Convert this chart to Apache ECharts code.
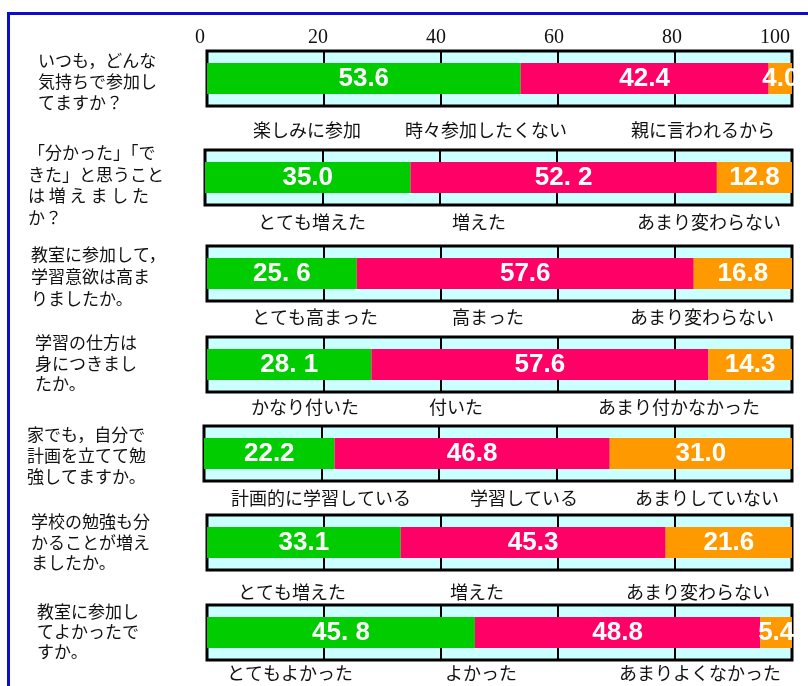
<!DOCTYPE html>
<html>
<head>
<meta charset="utf-8">
<script src="https://cdn.jsdelivr.net/npm/echarts@6/dist/echarts.min.js"></script>
<style>
  html, body { margin: 0; padding: 0; background: #fff; }
  #chart { width: 808px; height: 686px; }
</style>
</head>
<body>
<div id="chart"></div>
<script>
// questions (left column)
var questions = [
  'いつも，どんな\n気持ちで参加し\nてますか？',
  '「分かった」「で\nきた」と思うこと\nは 増 え ま し た\nか？',
  '教室に参加して，\n学習意欲は高ま\nりましたか。',
  '学習の仕方は\n身につきまし\nたか。',
  '家でも，自分で\n計画を立てて勉\n強してますか。',
  '学校の勉強も分\nかることが増え\nましたか。',
  '教室に参加し\nてよかったで\nすか。'
];

// answer names under each bar
var answers = [
  ['楽しみに参加', '時々参加したくない', '親に言われるから'],
  ['とても増えた', '増えた', 'あまり変わらない'],
  ['とても高まった', '高まった', 'あまり変わらない'],
  ['かなり付いた', '付いた', 'あまり付かなかった'],
  ['計画的に学習している', '学習している', 'あまりしていない'],
  ['とても増えた', '増えた', 'あまり変わらない'],
  ['とてもよかった', 'よかった', 'あまりよくなかった']
];

// percentages
var greenValues  = [53.6, 35.0, 25.6, 28.1, 22.2, 33.1, 45.8];
var pinkValues   = [42.4, 52.2, 57.6, 57.6, 46.8, 45.3, 48.8];
var orangeValues = [4.0, 12.8, 16.8, 14.3, 31.0, 21.6, 5.4];

// labels as printed on the bars
var greenText  = ['53.6', '35.0', '25. 6', '28. 1', '22.2', '33.1', '45. 8'];
var pinkText   = ['42.4', '52. 2', '57.6', '57.6', '46.8', '45.3', '48.8'];
var orangeText = ['4.0', '12.8', '16.8', '14.3', '31.0', '21.6', '5.4'];

var tickLabels = ['0', '20', '40', '60', '80', '100'];

// layout
var boxTop    = [51, 150, 246, 337, 426, 515, 605];
var boxLeft   = [207, 205, 207, 207, 204, 207, 207];
var boxHeight = 55;
var qPos   = [[38, 61, 21], [28, 153, 21.5], [31, 255, 22], [35, 343, 20.5], [27, 435, 21], [31, 522, 20.5], [37, 612, 20]];
var ansY   = [130, 222, 317, 407, 498, 592, 673];
var ansX   = [[307, 486, 703], [312, 479, 709], [315, 488, 702], [305, 456, 679], [321, 524, 707], [292, 477, 698], [290, 481, 700]];

var colors = ['#00cc00', '#ff0066', '#ff9900'];
var jpFont = "'Noto Sans CJK JP', sans-serif";
var numFont = "'Liberation Sans', Arial, sans-serif";

var myChart = echarts.init(document.getElementById('chart'));

var grids = [], xAxes = [], yAxes = [], series = [], graphics = [];

// row index is stored in the series name
var currentRow = function (p) { return +p.seriesName.split('-')[1]; };
var barLabel = function (texts) {
  return {
    show: true,
    position: 'inside',
    color: '#fff',
    fontFamily: numFont,
    fontWeight: 'bold',
    fontSize: 26,
    formatter: function (p) { return texts[currentRow(p)]; }
  };
};

for (var i = 0; i < greenValues.length; i++) {
  grids.push({
    left: boxLeft[i], right: 16, top: boxTop[i], height: boxHeight,
    show: true, backgroundColor: '#ccffff', borderColor: '#000', borderWidth: 3
  });
  xAxes.push({
    gridIndex: i, type: 'value', min: 0, max: 100, interval: 20,
    axisLine: { show: false }, axisTick: { show: false }, axisLabel: { show: false },
    splitLine: { show: true, lineStyle: { color: '#000', width: 2 } }
  });
  yAxes.push({
    gridIndex: i, type: 'category', data: ['q' + i], show: false
  });
  var vals = [greenValues[i], pinkValues[i], orangeValues[i]];
  var texts = [greenText, pinkText, orangeText];
  for (var k = 0; k < 3; k++) {
    series.push({
      name: 's' + k + '-' + i,
      type: 'bar', stack: 'row' + i,
      xAxisIndex: i, yAxisIndex: i,
      barWidth: 31,
      data: [vals[k]],
      itemStyle: { color: colors[k] },
      label: barLabel(texts[k]),
      z: 3
    });
  }
  graphics.push({
    type: 'text', left: qPos[i][0], top: qPos[i][1] - qPos[i][2] / 2,
    style: { text: questions[i], font: '17px ' + jpFont, fill: '#111', lineHeight: qPos[i][2] }
  });
  for (var a = 0; a < 3; a++) {
    graphics.push({
      type: 'text', x: ansX[i][a], y: ansY[i],
      style: { text: answers[i][a], font: '18px ' + jpFont, fill: '#111', textAlign: 'center', textVerticalAlign: 'middle' }
    });
  }
}

// separate axis carrying only the printed scale at top
grids.push({ left: 200, right: 18, top: 51, height: boxHeight });
xAxes.push({
  gridIndex: 7, type: 'value', position: 'top', min: 0, max: 100, interval: 20,
  axisLine: { show: false }, axisTick: { show: false }, splitLine: { show: false },
  axisLabel: {
    margin: 3, color: '#111', fontFamily: "'Liberation Serif', 'DejaVu Serif', serif", fontSize: 20,
    alignMaxLabel: 'right',
    formatter: function (v) { return tickLabels[Math.round(v / 20)]; }
  }
});
yAxes.push({ gridIndex: 7, type: 'category', data: [''], show: false });

// blue frame
graphics.push({ type: 'line', shape: { x1: 8.5, y1: 12, x2: 8.5, y2: 686 }, style: { stroke: '#0c0cd0', lineWidth: 3 } });
graphics.push({ type: 'line', shape: { x1: 7, y1: 13.5, x2: 808, y2: 13.5 }, style: { stroke: '#0c0cd0', lineWidth: 3 } });

var option = {
  animation: false,
  grid: grids,
  xAxis: xAxes,
  yAxis: yAxes,
  series: series,
  graphic: graphics
};
myChart.setOption(option);
window.onresize = myChart.resize;
</script>
</body>
</html>
